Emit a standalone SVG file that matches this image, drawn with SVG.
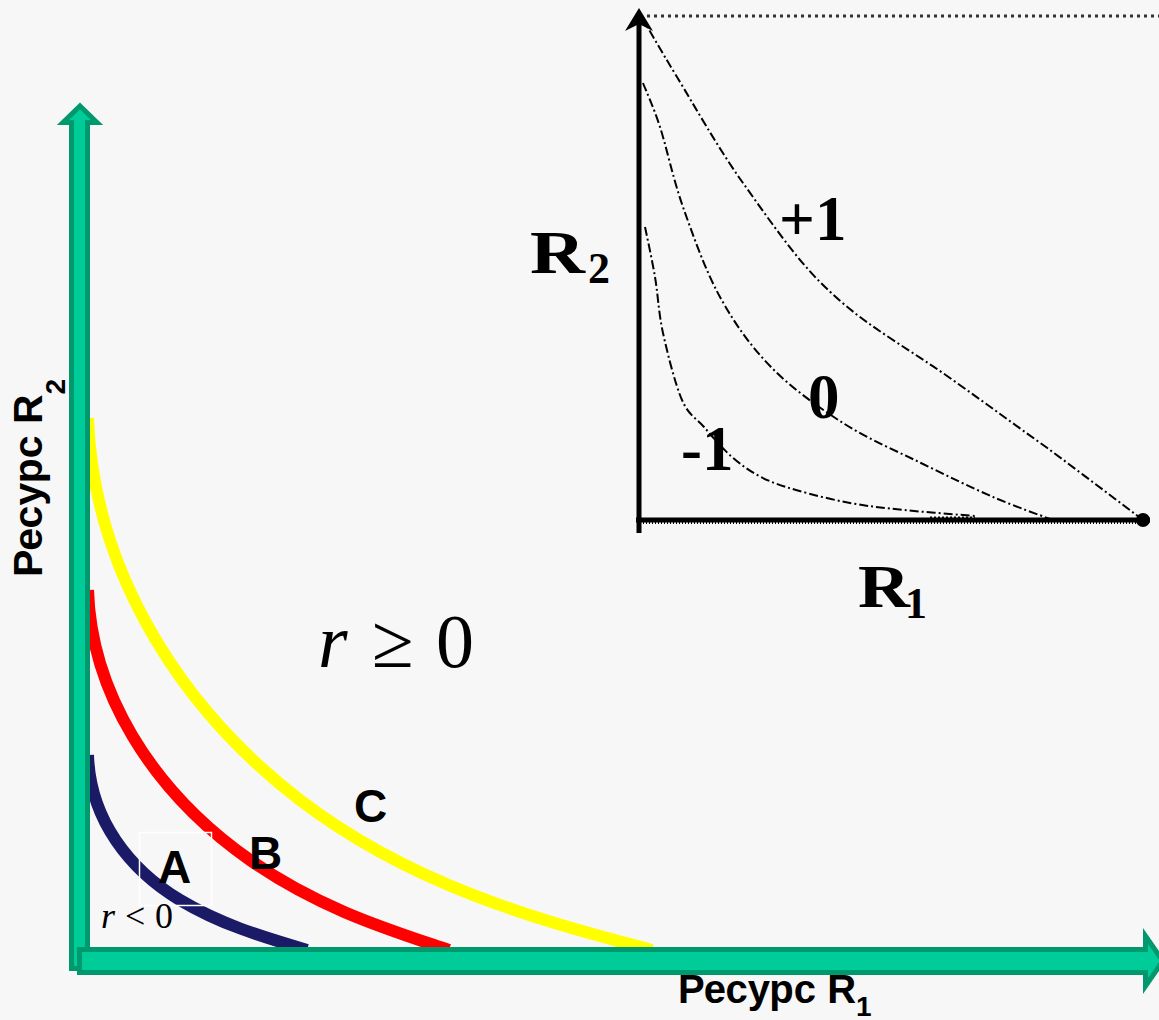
<svg xmlns="http://www.w3.org/2000/svg" width="1159" height="1020" viewBox="0 0 1159 1020">
  <defs>
    <style>
      .axis { fill: #00cc99; stroke: #00996e; stroke-width: 5; stroke-linejoin: miter; }
      .curve { fill: none; stroke-width: 12; stroke-linecap: butt; }
      .lbl { font-family: "Liberation Sans", Arial, sans-serif; font-weight: bold; fill: #000; }
      .math { font-family: "Liberation Serif", "Times New Roman", serif; fill: #000; }
      .ins { fill: none; stroke: #000; stroke-width: 2; stroke-dasharray: 9 3 2 3; stroke-linejoin: round; }
      .insl { font-family: "Liberation Serif", "Times New Roman", serif; font-weight: bold; fill: #000; }
    </style>
  </defs>
  <rect width="1159" height="1020" fill="#f7f7f7"/>

  <!-- main curves -->
  <g id="curves">
    <path id="curve-C" class="curve" stroke="#ffff00" d="M88,418 C 93,560 170,700 300,800 C 420,892 560,925 652,950"/>
    <path id="curve-B" class="curve" stroke="#ff0000" d="M88,590 C 91,690 150,790 250,860 C 320,909 390,930 449,950"/>
    <path id="curve-A" class="curve" stroke="#1a1a66" d="M88,755 C 90,820 130,870 180,900 C 220,924 260,936 307,950"/>
  </g>

  <!-- main axes -->
  <g id="axis-R2">
    <polygon class="axis" points="80,106 97,122.5 87.5,122.5 87.5,968.5 71.5,968.5 71.5,122.5 63,122.5"/>
  </g>
  <g id="axis-R1">
    <polygon class="axis" points="79.5,949.5 1145.5,949.5 1145.5,936 1163,961 1145.5,986 1145.5,972.5 79.5,972.5"/>
  </g>

  <!-- main labels -->
  <g id="label-R2">
    <text class="lbl" font-size="41" transform="translate(42,577) rotate(-90)">Ресурс R<tspan font-size="28" dy="23">2</tspan></text>
  </g>
  <g id="label-R1">
    <text class="lbl" font-size="40" x="678" y="1003">Ресурс R<tspan font-size="28" dy="13">1</tspan></text>
  </g>
  <g id="label-C"><text class="lbl" font-size="46" x="354" y="822">C</text></g>
  <g id="label-B"><text class="lbl" font-size="46" x="249" y="869">B</text></g>
  <g id="label-A">
    <rect x="139.5" y="832.5" width="72" height="73" fill="none" stroke="#ffffff" stroke-width="1.5"/>
    <text class="lbl" font-size="46" x="158" y="883">A</text>
  </g>
  <g id="label-r-lt-0">
    <text class="math" font-size="36" y="928"><tspan x="101" font-style="italic">r</tspan><tspan x="125">&lt;</tspan><tspan x="155">0</tspan></text>
  </g>
  <g id="label-r-ge-0">
    <text class="math" font-size="76" y="667"><tspan x="318" font-style="italic">r</tspan><tspan x="372">≥</tspan><tspan x="436">0</tspan></text>
  </g>

  <!-- inset chart -->
  <g id="inset">
    <line x1="647" y1="16" x2="1159" y2="16" stroke="#333" stroke-width="3" stroke-dasharray="3 4"/>
    <line x1="639" y1="20" x2="639" y2="533" stroke="#000" stroke-width="5"/>
    <polygon points="639,8 653,31 639,24 625,31" fill="#000"/>
    <line x1="636" y1="520" x2="1150" y2="520" stroke="#000" stroke-width="5"/>
    <line x1="640" y1="523" x2="1150" y2="523" stroke="#000" stroke-width="2" stroke-dasharray="1 2"/>
    <line x1="930" y1="518" x2="975" y2="518" stroke="#000" stroke-width="3" stroke-dasharray="2 2"/>
    <circle cx="1143" cy="520" r="7" fill="#000"/>

    <path id="inset-curve-p1" class="ins" d="M641,16 C647,26 660,49 677,77 C694,105 718,148 743,183 C768,218 794,256 820,282 C846,308 866,322 890,338 C914,354 935,367 957,383 C988,405 1015,425 1046,447 C1077,470 1127,508 1143,520"/>
    <path id="inset-curve-0" class="ins" d="M643,83 C645.8,90.3 653.3,106.3 660,127 C666.7,147.7 673,178.7 683,207 C693,235.3 705.3,270.3 720,297 C734.7,323.7 750.5,346 771,367 C791.5,388 818,407 843,423 C868,439 896,450.7 921,463 C946,475.3 971.5,487.7 993,497 C1014.5,506.3 1040.5,515.3 1050,519"/>
    <path id="inset-curve-m1" class="ins" d="M645,227 C646.7,235.3 652,259.3 655,277 C658,294.7 658.5,312.5 663,333 C667.5,353.5 675.2,384.3 682,400 C688.8,415.7 695.7,417.5 704,427 C712.3,436.5 722.5,448.7 732,457 C741.5,465.3 750.3,471.5 761,477 C771.7,482.5 781.2,485.7 796,490 C810.8,494.3 832,499.7 850,503 C868,506.3 883.2,507.8 904,510 C924.8,512.2 963.2,515 975,516"/>

    <text class="insl" font-size="63" x="779" y="240">+1</text>
    <text class="insl" font-size="63" x="808" y="418">0</text>
    <text class="insl" font-size="63" x="681" y="470">-1</text>
    <text class="insl" font-size="62" x="530" y="273"><tspan textLength="55" lengthAdjust="spacingAndGlyphs">R</tspan></text>
    <text class="insl" font-size="44" x="588" y="283">2</text>
    <text class="insl" font-size="62" x="858" y="607"><tspan textLength="52" lengthAdjust="spacingAndGlyphs">R</tspan></text>
    <text class="insl" font-size="44" x="905" y="618">1</text>
  </g>
</svg>
